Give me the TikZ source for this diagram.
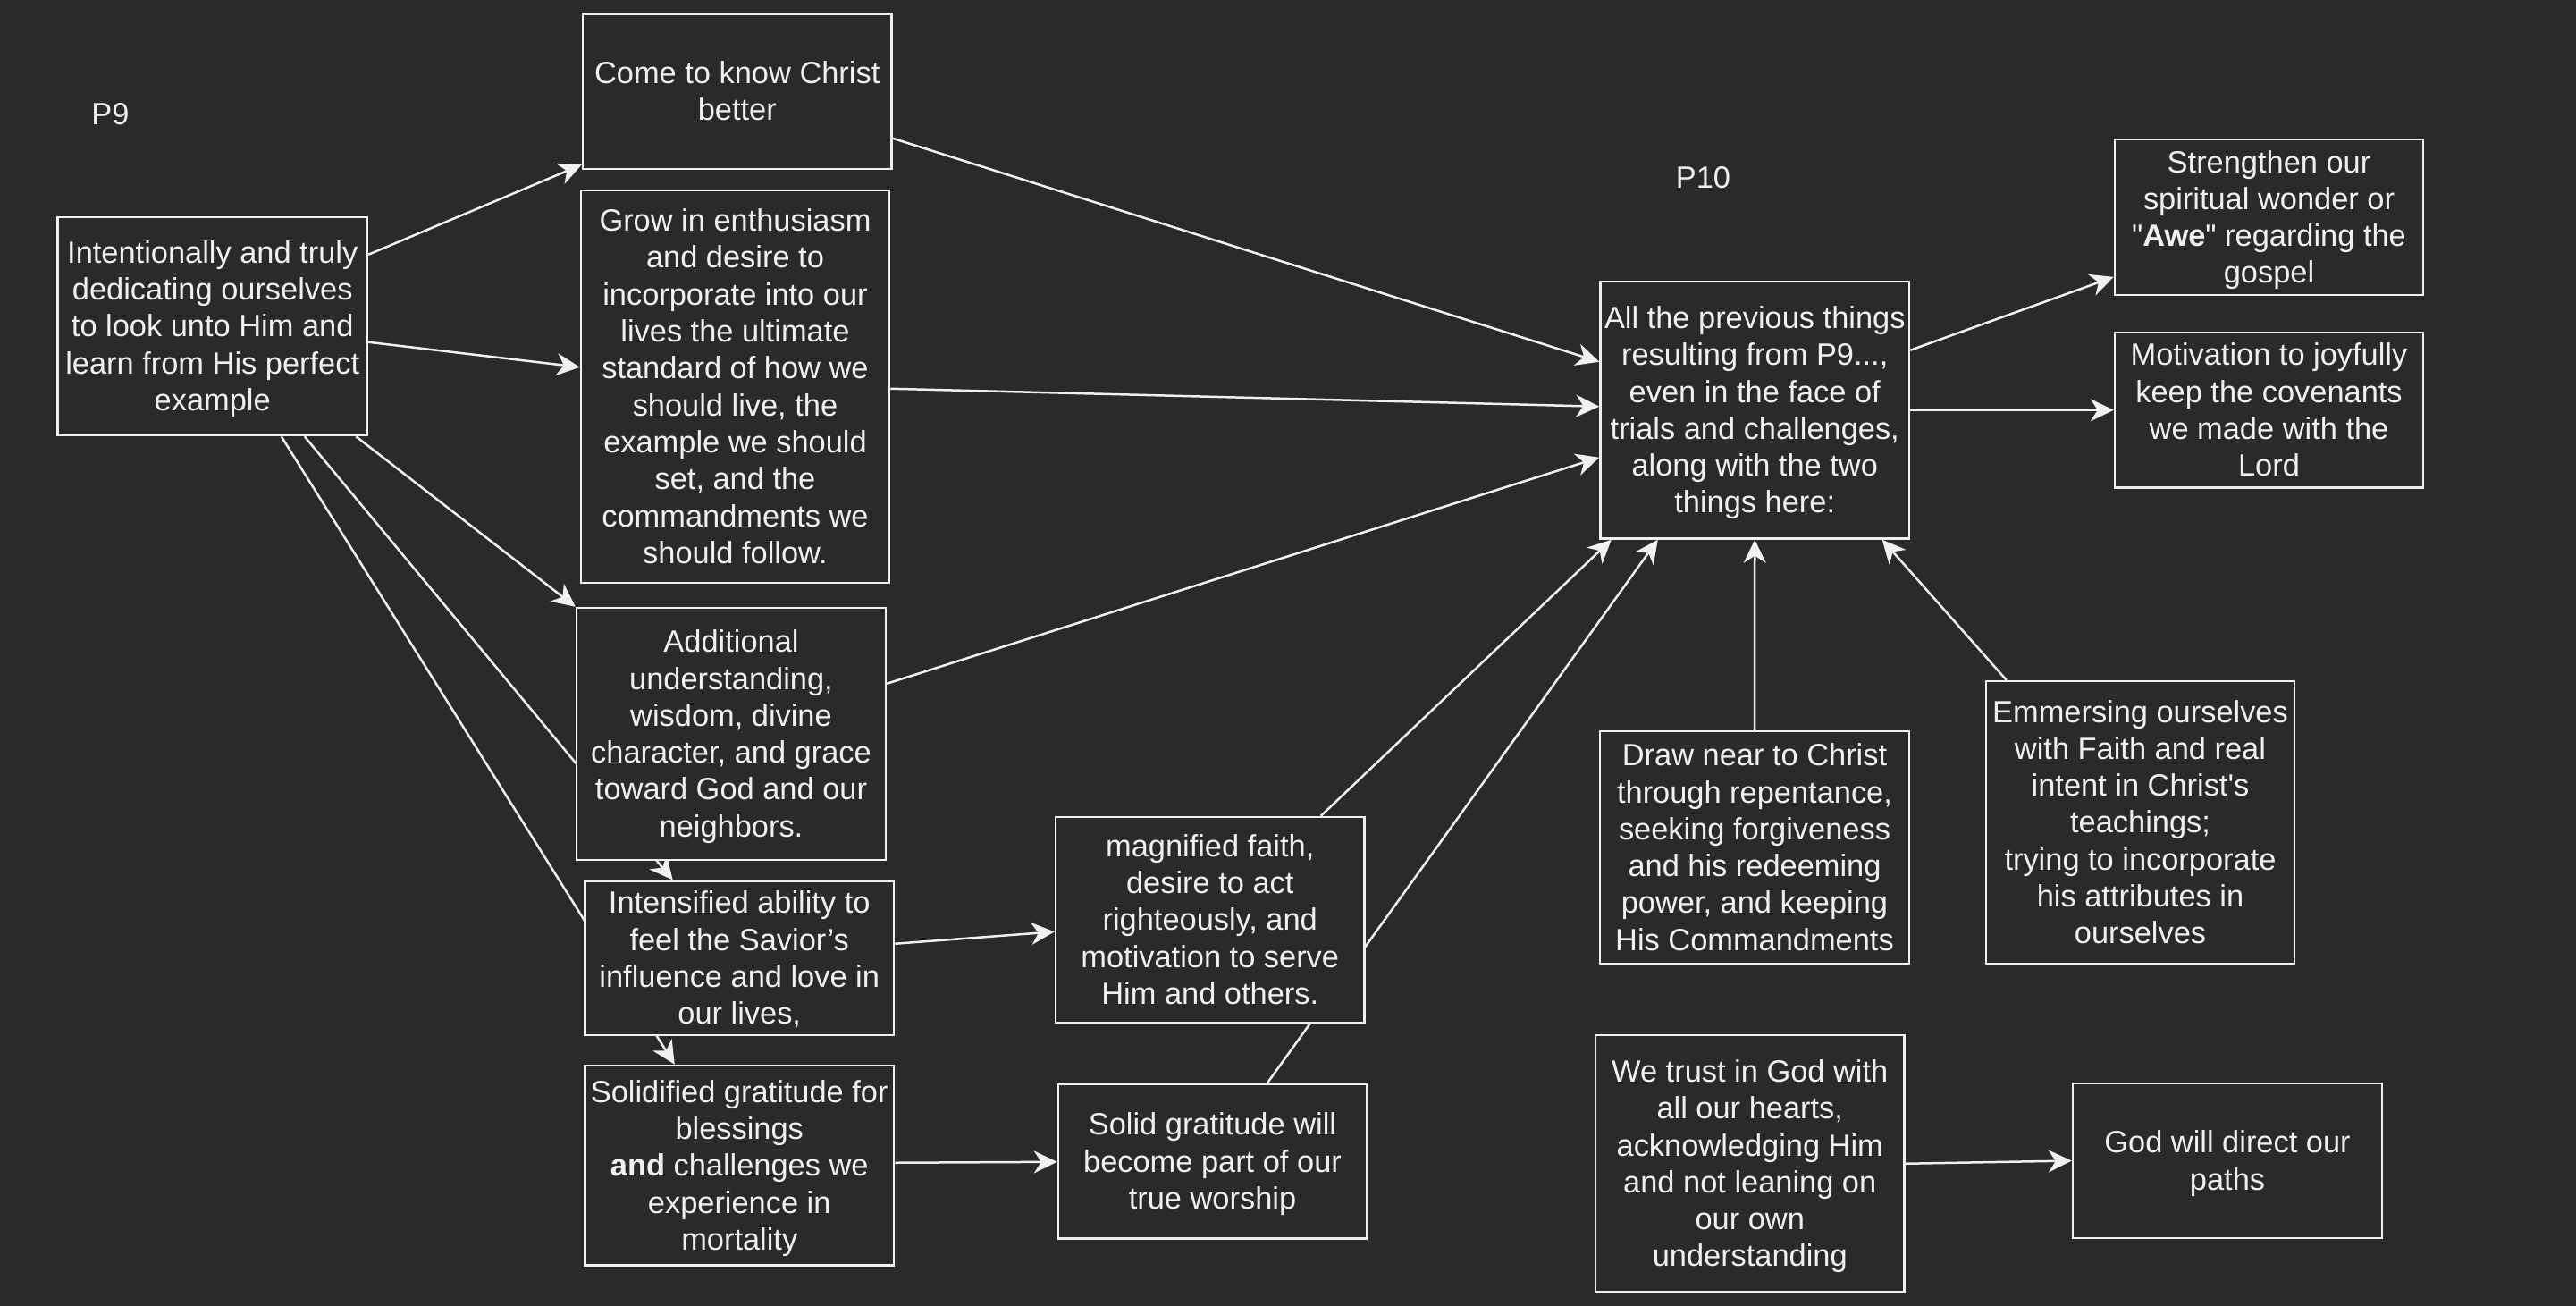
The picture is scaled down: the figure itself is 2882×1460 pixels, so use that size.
\documentclass[tikz,border=0pt]{standalone}
\usepackage{fontspec}
\setmainfont{Liberation Sans}[Ligatures=TeXOff]
\usetikzlibrary{arrows.meta,calc}
\pgfdeclarelayer{bglayer}
\pgfdeclarelayer{edgelayer}
\pgfsetlayers{bglayer,edgelayer,main}
\definecolor{bg}{HTML}{2A2A2A}
\definecolor{fg}{HTML}{F0F0F0}
\newcommand\tst{\rule{0pt}{32.6pt}}
\begin{document}
\begin{tikzpicture}[x=1pt,y=-1pt,
  nbox/.style={draw=fg, fill=bg, line width=2.5pt, text=fg, align=center, inner sep=0pt,
    font=\fontsize{34.4}{41.3}\selectfont,
    execute at end node={\rule[-8.7pt]{0pt}{8.7pt}}},
  conn/.style={draw=fg, line width=2.5pt},
  arr/.style={conn, -{Stealth[length=26pt,width=25pt,inset=8pt]}},
  lbl/.style={text=fg, inner sep=0pt, font=\fontsize{34.4}{41.3}\selectfont}]
\useasboundingbox (0,0) rectangle (2882,1460);
\begin{pgfonlayer}{bglayer}
\fill[bg] (-10,-10) rectangle (2892,1470);
\end{pgfonlayer}

\node[lbl] (p9) at (123.5,128) {P9};
\node[lbl] (p10) at (1905.5,198.6) {P10};

\node[nbox, minimum width=346.5pt, minimum height=244pt] (A) at (237.75,365) {\tst Intentionally and truly\\dedicating ourselves\\to look unto Him and\\learn from His perfect\\example};
\node[nbox, minimum width=345.5pt, minimum height=173.4pt] (B) at (824.75,102.3) {\tst Come to know Christ\\better};
\node[nbox, minimum width=345pt, minimum height=439pt] (C) at (822.5,432.5) {\tst Grow in enthusiasm\\and desire to\\incorporate into our\\lives the ultimate\\standard of how we\\should live, the\\example we should\\set, and the\\commandments we\\should follow.};
\node[nbox, minimum width=346pt, minimum height=282pt] (D) at (818,821) {\tst Additional\\understanding,\\wisdom, divine\\character, and grace\\toward God and our\\neighbors.};
\node[nbox, minimum width=345.5pt, minimum height=172.3pt] (E) at (827.25,1071.85) {\tst Intensified ability to\\feel the Savior’s\\influence and love in\\our lives,};
\node[nbox, minimum width=345.5pt, minimum height=223.5pt] (F) at (827.25,1303.75) {\tst Solidified gratitude for\\blessings\\\textbf{and} challenges we\\experience in\\mortality};
\node[nbox, minimum width=345.5pt, minimum height=230pt] (G) at (1353.75,1029) {\tst magnified faith,\\desire to act\\righteously, and\\motivation to serve\\Him and others.};
\node[nbox, minimum width=345pt, minimum height=172.5pt] (H) at (1356.5,1299.25) {\tst Solid gratitude will\\become part of our\\true worship};
\node[nbox, minimum width=346pt, minimum height=260pt] (I) at (1963,948) {\tst Draw near to Christ\\through repentance,\\seeking forgiveness\\and his redeeming\\power, and keeping\\His Commandments};
\node[nbox, minimum width=345.5pt, minimum height=287.5pt] (J) at (1957.75,1301.75) {\tst We trust in God with\\all our hearts,\\acknowledging Him\\and not leaning on\\our own\\understanding};
\node[nbox, minimum width=345.5pt, minimum height=287.5pt] (K) at (1963.25,458.75) {\tst All the previous things\\resulting from P9...,\\even in the face of\\trials and challenges,\\along with the two\\things here:};
\node[nbox, minimum width=345pt, minimum height=174pt] (L) at (2538.5,243) {\tst Strengthen our\\spiritual wonder or\\"\textbf{Awe}" regarding the\\gospel};
\node[nbox, minimum width=345pt, minimum height=173.5pt] (M) at (2538.5,458.75) {\tst Motivation to joyfully\\keep the covenants\\we made with the\\Lord};
\node[nbox, minimum width=345pt, minimum height=316pt] (N) at (2394.5,920) {\tst Emmersing ourselves\\with Faith and real\\intent in Christ's\\teachings;\\trying to incorporate\\his attributes in\\ourselves};
\node[nbox, minimum width=346pt, minimum height=173pt] (O) at (2492,1298.5) {\tst God will direct our\\paths};

\begin{pgfonlayer}{edgelayer}
\draw[arr] ($(A.north east)+(0,43)$) -- ($(B.south west)+(0,-6)$);
\draw[arr] ($(A.north east)+(0,141)$) -- ($(C.north west)+(0,199)$);
\draw[arr] ($(A.south east)+(-14,0)$) -- (D.north west);
\draw[arr] ($(A.south west)+(277.5,0)$) -- ($(E.north west)+(99.5,0)$);
\draw[arr] ($(A.south west)+(251.5,0)$) -- ($(F.north west)+(101.5,0)$);
\draw[arr] ($(B.north east)+(0,140.4)$) -- ($(K.north west)+(0,91)$);
\draw[arr] ($(C.north east)+(0,223)$) -- ($(K.north west)+(0,141)$);
\draw[arr] ($(D.north east)+(0,86)$) -- ($(K.north west)+(0,198)$);
\draw[arr] ($(E.north east)+(0,71.3)$) -- ($(G.north west)+(0,129.6)$);
\draw[arr] ($(F.north east)+(0,110)$) -- ($(H.north west)+(0,88)$);
\draw[arr] ($(G.north west)+(298,0)$) -- ($(K.south west)+(13.5,0)$);
\draw[arr] ($(H.north west)+(235,0)$) -- ($(K.south west)+(65.5,0)$);
\draw[arr] (I.north) -- (K.south);
\draw[arr] ($(N.north west)+(24,0)$) -- ($(K.south west)+(316.5,0)$);
\draw[arr] ($(K.north east)+(0,78)$) -- ($(L.south west)+(0,-21.4)$);
\draw[arr] (K.east) -- (M.west);
\draw[arr] (J.east) -- (O.west);
\end{pgfonlayer}
\end{tikzpicture}
\end{document}
